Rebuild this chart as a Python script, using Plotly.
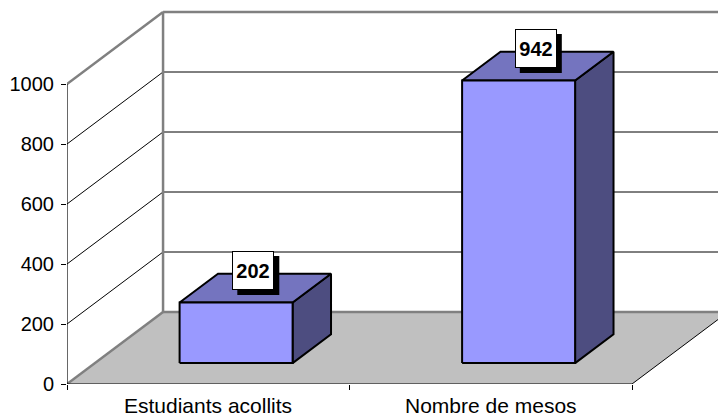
import plotly.graph_objects as go

# Chart data
categories = ["Estudiants acollits", "Nombre de mesos"]
values = [202, 942]
y_ticks = [0, 200, 400, 600, 800, 1000]
y_max = 1000

# Oblique projection of the 3-D box: depth 0 = front plane, depth 1 = back wall
DX = 0.34      # horizontal shift of the back wall, in category units
DY = 240       # vertical shift of the back wall, in value units
BAR_HALF = 0.2
D0, D1 = 0.29, 0.69   # depth span occupied by the bars
N = len(categories)

FONT = "Liberation Sans, Arial, sans-serif"
WALL_EDGE = "#808080"
FRONT, TOP, SIDE = "#9999FF", "#7474BF", "#4D4D80"


def proj(x, v, d):
    return x + d * DX, v + d * DY


fig = go.Figure()


def poly(xs, ys, fill, line_color, width):
    fig.add_trace(go.Scatter(
        x=xs, y=ys, mode="lines", fill="toself" if fill else None,
        fillcolor=fill, line=dict(color=line_color, width=width),
        hoverinfo="skip", showlegend=False))


def segs(points, color, width):
    xs, ys = [], []
    for (a, b) in points:
        xs += [a[0], b[0], None]
        ys += [a[1], b[1], None]
    fig.add_trace(go.Scatter(x=xs, y=ys, mode="lines",
                             line=dict(color=color, width=width),
                             hoverinfo="skip", showlegend=False))


# Floor
f = [proj(0, 0, 0), proj(N, 0, 0), proj(N, 0, 1), proj(0, 0, 1)]
poly([p[0] for p in f] + [f[0][0]], [p[1] for p in f] + [f[0][1]],
     "#C0C0C0", "rgba(0,0,0,0)", 0)

# Grid lines on the side and back walls
inner = [t for t in y_ticks if 0 < t < y_max]
segs([(proj(0, t, 0), proj(0, t, 1)) for t in inner], "black", 1)
segs([(proj(0, t, 1), proj(N, t, 1)) for t in inner], "black", 1)

# Wall edges
segs([(proj(0, 0, 0), proj(0, 0, 1)),
      (proj(0, 0, 1), proj(N, 0, 1)),
      (proj(0, 0, 1), proj(0, y_max, 1)),
      (proj(0, y_max, 0), proj(0, y_max, 1)),
      (proj(0, y_max, 1), proj(N, y_max, 1))], WALL_EDGE, 2.5)

# Floor right edge and front axis lines
segs([(proj(N, 0, 0), proj(N, 0, 1))], "black", 1)
segs([(proj(0, 0, 0), proj(N, 0, 0)),
      (proj(0, 0, 0), proj(0, y_max, 0))], "black", 1.2)

# Bars
for i, v in enumerate(values):
    c = i + 0.5
    xl, xr = c - BAR_HALF, c + BAR_HALF
    front = [proj(xl, 0, D0), proj(xr, 0, D0), proj(xr, v, D0), proj(xl, v, D0)]
    top = [proj(xl, v, D0), proj(xr, v, D0), proj(xr, v, D1), proj(xl, v, D1)]
    side = [proj(xr, 0, D0), proj(xr, 0, D1), proj(xr, v, D1), proj(xr, v, D0)]
    for face, col in ((side, SIDE), (top, TOP), (front, FRONT)):
        poly([p[0] for p in face] + [face[0][0]],
             [p[1] for p in face] + [face[0][1]], col, "black", 2)

# Value labels: white boxed text over a black drop-shadow rectangle
BOX_W, BOX_H, SHADOW = 42, 39, 5
annotations, shapes = [], []
for i, v in enumerate(values):
    lx, ly = proj(i + 0.5, v, (D0 + D1) / 2)
    shapes.append(dict(
        type="rect", xref="x", yref="y", xsizemode="pixel", ysizemode="pixel",
        xanchor=lx, yanchor=ly,
        x0=-BOX_W / 2 - 2 + SHADOW, x1=BOX_W / 2 - 2 + SHADOW,
        y0=-2 - SHADOW, y1=BOX_H - 2 - SHADOW,
        fillcolor="black", line=dict(width=0), layer="above"))
    annotations.append(dict(
        x=lx, y=ly, xref="x", yref="y", text=f"<b>{v}</b>", showarrow=False,
        xanchor="center", yanchor="bottom", xshift=-2, yshift=-2,
        width=BOX_W - 2, height=BOX_H - 2, borderpad=0,
        bgcolor="white", bordercolor="black", borderwidth=1,
        font=dict(family=FONT, size=20, color="black")))

# Category labels
for i, cat in enumerate(categories):
    annotations.append(dict(
        x=i + 0.5, y=0, xref="x", yref="paper", text=cat, showarrow=False,
        xanchor="center", yanchor="top", yshift=-8,
        font=dict(family=FONT, size=21, color="black")))

W, H = 718, 419
L, R, T, B = 67, 0, 8, 35
px_per_cat = 282.5
px_per_unit = 0.3

fig.update_layout(
    width=W, height=H,
    margin=dict(l=L, r=R, t=T, b=B),
    paper_bgcolor="white", plot_bgcolor="white",
    xaxis=dict(range=[0, (W - L - R) / px_per_cat], showgrid=False, zeroline=False,
               showline=False, tickvals=list(range(N + 1)),
               ticktext=[""] * (N + 1), ticks="outside", ticklen=5,
               tickcolor="black", fixedrange=True),
    yaxis=dict(range=[0, (H - T - B) / px_per_unit], showgrid=False, zeroline=False,
               showline=False, tickvals=y_ticks, ticks="outside", ticklen=5,
               tickcolor="black", ticklabelstandoff=3,
               tickfont=dict(family=FONT, size=20, color="black"), fixedrange=True),
    annotations=annotations,
    shapes=shapes,
    font=dict(family=FONT),
)

fig.write_html("out.html")
